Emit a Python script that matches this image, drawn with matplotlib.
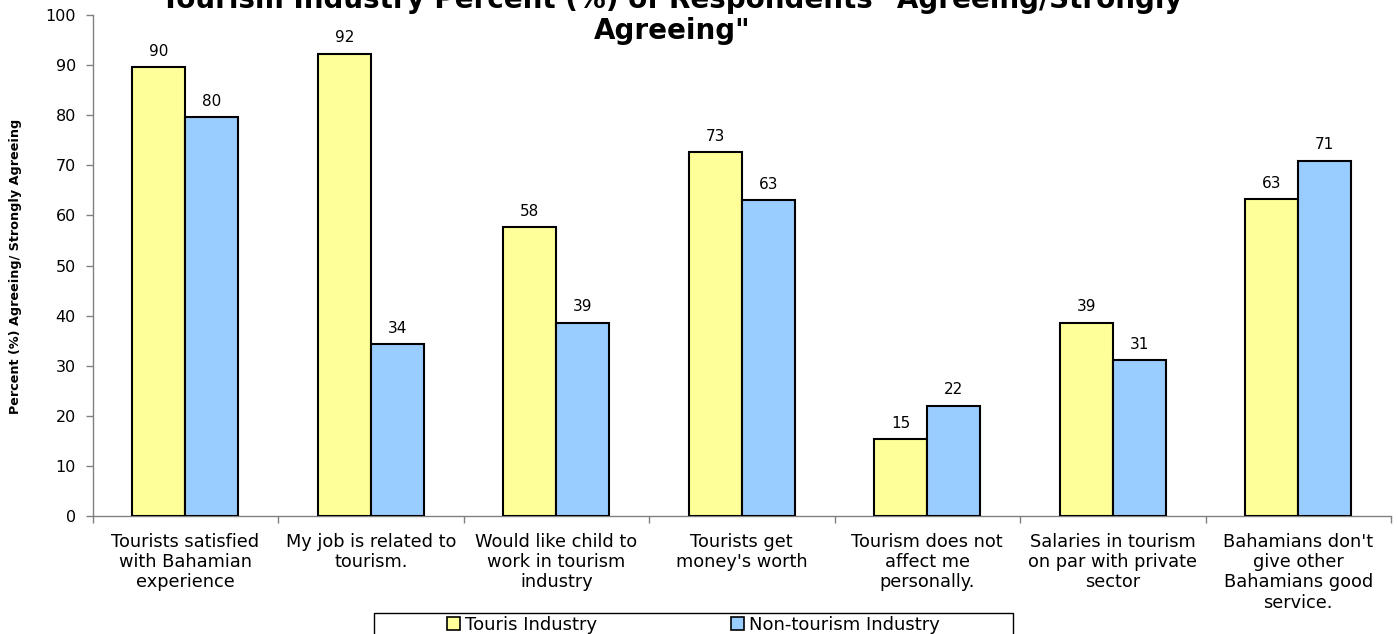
import matplotlib
matplotlib.use("Agg")
import matplotlib.pyplot as plt
from matplotlib.patches import Rectangle
import numpy as np

# Survey statements (x categories)
categories = [
    "Tourists satisfied\nwith Bahamian\nexperience",
    "My job is related to\ntourism.",
    "Would like child to\nwork in tourism\nindustry",
    "Tourists get\nmoney's worth",
    "Tourism does not\naffect me\npersonally.",
    "Salaries in tourism\non par with private\nsector",
    "Bahamians don't\ngive other\nBahamians good\nservice.",
]

# Percent agreeing / strongly agreeing
tourism_industry = [89.6, 92.3, 57.6, 72.6, 15.4, 38.6, 63.3]
non_tourism_industry = [79.6, 34.3, 38.6, 63.1, 22.0, 31.1, 70.9]

series_names = ["Touris Industry", "Non-tourism Industry"]
series_colors = ["#FFFF99", "#99CCFF"]

y_ticks = list(range(0, 101, 10))

title = 'Tourism Industry Percent (%) of Respondents "Agreeing/Strongly\nAgreeing"'
y_label = "Percent (%) Agreeing/ Strongly Agreeing"

plt.rcParams["font.family"] = ["DejaVu Sans"]

W, H = 1398, 634
fig = plt.figure(figsize=(W / 100, H / 100), dpi=100)
ax = fig.add_axes([92.5 / W, 1 - 516 / H, (1391 - 92.5) / W, (516 - 15) / H])

x = np.arange(len(categories))
bw = 0.286
axis_grey = "#808080"

for i, (vals, name, col) in enumerate(zip([tourism_industry, non_tourism_industry],
                                          series_names, series_colors)):
    offs = (i - 0.5) * bw
    bars = ax.bar(x + offs, vals, width=bw, color=col, edgecolor="black",
                  linewidth=1.5, label=name, zorder=3)
    for b, v in zip(bars, vals):
        ax.annotate(f"{v:.0f}", (b.get_x() + b.get_width() / 2, v),
                    xytext=(0, 6), textcoords="offset points",
                    ha="center", va="bottom", fontsize=11, color="black")

ax.set_xlim(-0.5, len(categories) - 0.5)
ax.set_ylim(0, 100)
ax.set_yticks(y_ticks)
ax.tick_params(axis="y", labelsize=11.5, length=5, width=1, color=axis_grey, pad=7)

# category labels at group centres, tick marks at group boundaries
ax.set_xticks(x)
ax.set_xticklabels(categories, fontsize=12.8, linespacing=1.17)
ax.set_xticks(np.arange(-0.5, len(categories), 1.0), minor=True)
ax.tick_params(axis="x", which="major", length=0, pad=12)
ax.tick_params(axis="x", which="minor", length=5, width=1, color=axis_grey)

for s in ["top", "right"]:
    ax.spines[s].set_visible(False)
for s in ["left", "bottom"]:
    ax.spines[s].set_color(axis_grey)
    ax.spines[s].set_linewidth(1)

fig.text(16 / W, 1 - 266 / H, y_label, rotation=90, ha="center", va="center",
         fontsize=9.2, fontweight="bold")

fig.text(672 / W, 1 - 45 / H, title, ha="center", va="bottom",
         fontsize=20, fontweight="bold", linespacing=1.15)

# legend box along the bottom edge
handles, labels = ax.get_legend_handles_labels()
leg = fig.legend(handles, labels, loc="center", ncol=2, frameon=False,
                 bbox_to_anchor=(693.5 / W, 1 - 625 / H),
                 bbox_transform=fig.transFigure, fontsize=13,
                 handlelength=0.7, handleheight=0.7, handletextpad=0.3,
                 columnspacing=7.4)
for h in leg.legend_handles:
    h.set_linewidth(1.2)
fig.add_artist(Rectangle((374 / W, -0.05), (1013 - 374) / W, 0.05 + 1 - 613 / H,
                         transform=fig.transFigure, fill=False,
                         edgecolor="black", linewidth=1))

fig.savefig("out.png", dpi=100)
